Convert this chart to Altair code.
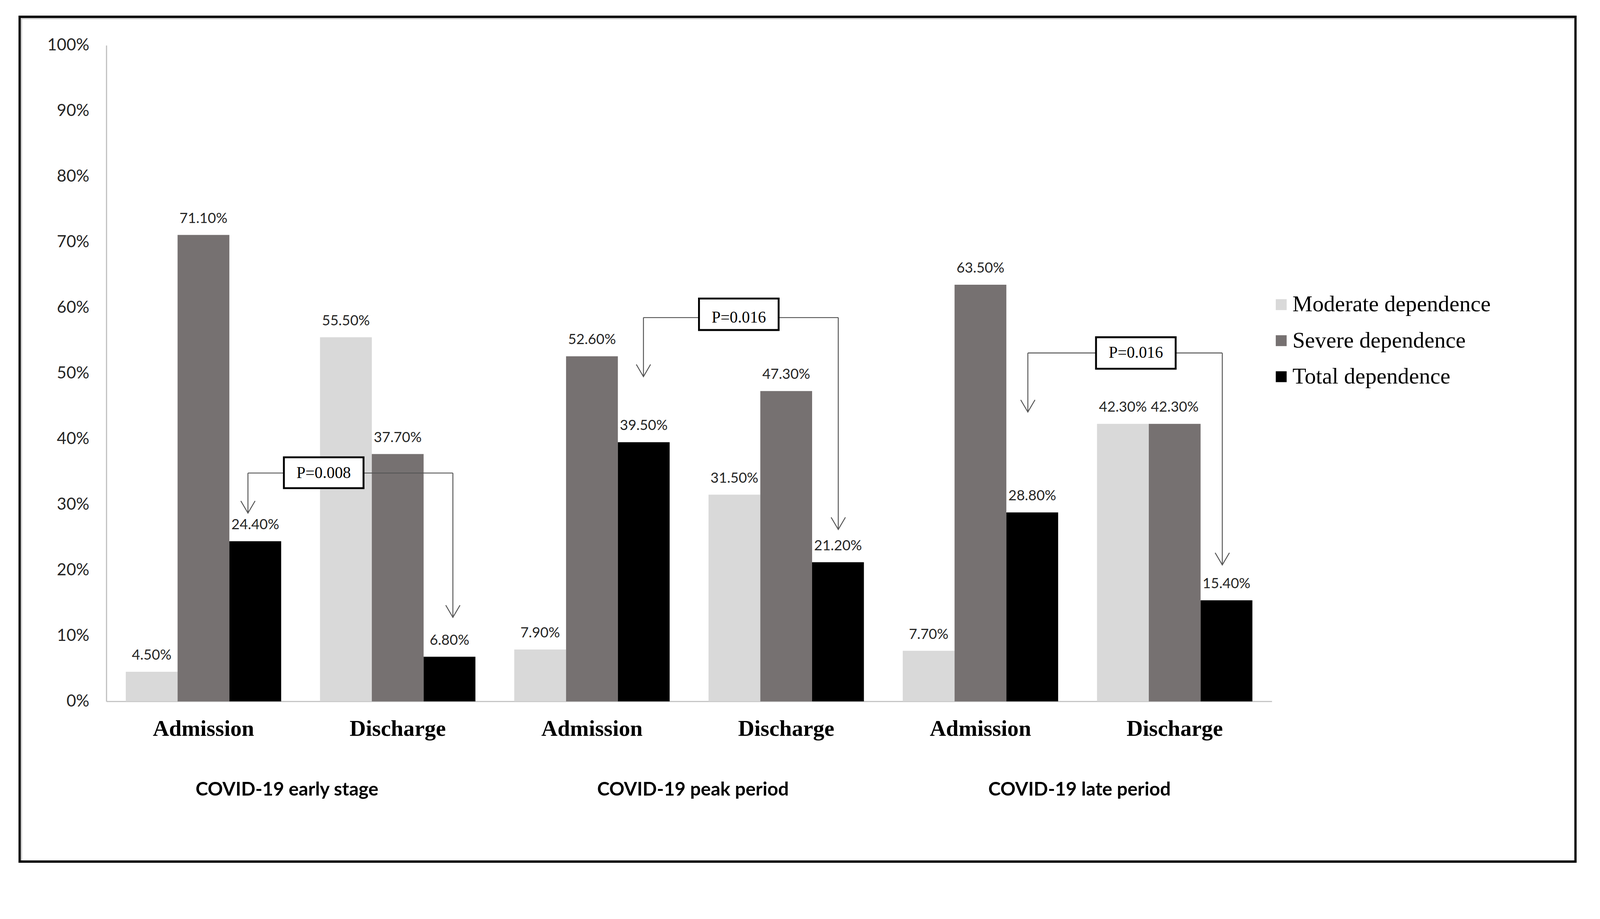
import altair as alt
import pandas as pd

# ---------------- data ----------------
periods = ["COVID-19 early stage", "COVID-19 peak period", "COVID-19 late period"]
stages = ["Admission", "Discharge"]
slots = [f"{p}|{s}" for p in periods for s in stages]
series = ["Moderate dependence", "Severe dependence", "Total dependence"]
colors = ["#d9d9d9", "#767171", "#000000"]

moderate = [4.5, 55.5, 7.9, 31.5, 7.7, 42.3]
severe = [71.1, 37.7, 52.6, 47.3, 63.5, 42.3]
total = [24.4, 6.8, 39.5, 21.2, 28.8, 15.4]

# group label positions (in category units along the x axis)
period_pos = [0.93, 3.02, 5.01]

# P-value brackets
p_labels = ["P=0.008", "P=0.016", "P=0.016"]
br_left_x = [0.729, 2.765, 4.744]
br_right_x = [1.784, 3.768, 5.745]
br_level = [34.8, 58.5, 53.1]
tip_left = [28.7, 49.5, 44.1]
tip_right = [12.8, 26.2, 20.8]
box_x = [1.119, 3.256, 5.30]
box_low = [32.5, 56.6, 50.7]
box_high = [37.2, 61.4, 55.5]
box_half = 0.205

# ---------------- layout ----------------
W, H = 3105, 1748
SANS = "Lato, 'DejaVu Sans Condensed', sans-serif"
SERIF = "'Liberation Serif', 'DejaVu Serif', serif"

rows = []
for vals, s in zip([moderate, severe, total], series):
    for slot, v in zip(slots, vals):
        rows.append({"slot": slot, "series": s, "value": v, "label": f"{v:.2f}%"})
bars_df = pd.DataFrame(rows)

x_band = alt.Scale(domain=slots, paddingInner=0.2, paddingOuter=0.1)
y_scale = alt.Scale(domain=[0, 100], nice=False)
xoff = alt.XOffset("series:N", sort=series, scale=alt.Scale(domain=series, paddingInner=0))

bars = alt.Chart(bars_df).mark_bar().encode(
    x=alt.X("slot:N", sort=slots, scale=x_band,
            axis=alt.Axis(title=None, labelExpr="split(datum.value, '|')[1]",
                          labelAngle=0, ticks=False, domainColor="#bfbfbf", domainWidth=3,
                          labelFont=SERIF, labelFontWeight="bold", labelFontSize=60,
                          labelColor="#000000", labelPadding=44, labelLimit=0)),
    xOffset=xoff,
    y=alt.Y("value:Q", scale=y_scale,
            axis=alt.Axis(title=None, values=list(range(0, 101, 10)),
                          labelExpr="datum.value + '%'", grid=False, ticks=False,
                          domainColor="#bfbfbf", domainWidth=3, labelPadding=46,
                          labelFont=SANS, labelFontSize=44, labelColor="#262626")),
    color=alt.Color("series:N", sort=series, scale=alt.Scale(domain=series, range=colors),
                    legend=alt.Legend(title=None, orient="none", legendX=3100, legendY=661,
                                      labelFont=SERIF, labelFontSize=60, labelColor="#000000",
                                      symbolType="square", symbolSize=841, symbolStrokeWidth=0,
                                      rowPadding=36, labelOffset=0, padding=0, labelLimit=0)),
)

value_labels = alt.Chart(bars_df).mark_text(
    baseline="alphabetic", dy=-32, font=SANS, fontSize=38, color="#262626"
).encode(
    x=alt.X("slot:N", sort=slots, scale=x_band, axis=None),
    xOffset=xoff,
    y=alt.Y("value:Q", scale=y_scale),
    text="label:N",
)

qx = alt.Scale(domain=[0, 6], nice=False, zero=False)

period_df = pd.DataFrame({"period": periods, "pos": period_pos})
period_text = alt.Chart(period_df).mark_text(
    baseline="alphabetic", font=SANS, fontWeight="bold", fontSize=50, color="#000000"
).encode(
    x=alt.X("pos:Q", scale=qx, axis=None),
    y=alt.value(H + 251),
    text="period:N",
)

seg_rows = []
for i in range(3):
    seg_rows.append({"x": br_left_x[i], "x2": br_right_x[i], "y": br_level[i], "y2": br_level[i]})
    seg_rows.append({"x": br_left_x[i], "x2": br_left_x[i], "y": br_level[i], "y2": tip_left[i]})
    seg_rows.append({"x": br_right_x[i], "x2": br_right_x[i], "y": br_level[i], "y2": tip_right[i]})
seg_df = pd.DataFrame(seg_rows)
segments = alt.Chart(seg_df).mark_rule(color="#555555", strokeWidth=2.5).encode(
    x=alt.X("x:Q", scale=qx, axis=None), x2="x2:Q",
    y=alt.Y("y:Q", scale=y_scale), y2="y2:Q",
)

tips_df = pd.DataFrame({"x": br_left_x + br_right_x, "y": tip_left + tip_right})
arrowheads = alt.Chart(tips_df).mark_point(
    shape="M -1 -1.7 L 0 0 L 1 -1.7", size=1444, filled=False,
    color="#555555", strokeWidth=2.5, opacity=1
).encode(
    x=alt.X("x:Q", scale=qx, axis=None),
    y=alt.Y("y:Q", scale=y_scale),
)

box_df = pd.DataFrame({
    "x0": [b - box_half for b in box_x], "x1": [b + box_half for b in box_x],
    "xc": box_x, "lo": box_low, "hi": box_high, "mid": br_level, "label": p_labels,
})
boxes = alt.Chart(box_df).mark_rect(fill="#ffffff", stroke="#000000", strokeWidth=5).encode(
    x=alt.X("x0:Q", scale=qx, axis=None), x2="x1:Q",
    y=alt.Y("lo:Q", scale=y_scale), y2="hi:Q",
)
box_text = alt.Chart(box_df).mark_text(
    baseline="middle", font=SERIF, fontSize=43, color="#000000"
).encode(
    x=alt.X("xc:Q", scale=qx, axis=None),
    y=alt.Y("mid:Q", scale=y_scale),
    text="label:N",
)

dummy = pd.DataFrame({"a": [0]})
frame = alt.Chart(dummy).mark_rect(fill="transparent", stroke="#000000", strokeWidth=6).encode(
    x=alt.value(-231), x2=alt.value(3914), y=alt.value(-76), y2=alt.value(2175)
)
frame_top = alt.Chart(dummy).mark_rule(color="#c8c8c8", strokeWidth=3).encode(
    x=alt.value(-228), x2=alt.value(3911), y=alt.value(-71)
)
frame_left = alt.Chart(dummy).mark_rule(color="#c8c8c8", strokeWidth=3).encode(
    x=alt.value(-226), y=alt.value(-71), y2=alt.value(2172)
)

chart = alt.layer(
    frame, frame_top, frame_left,
    bars, value_labels, segments, arrowheads, boxes, box_text, period_text,
).resolve_scale(x="independent").properties(
    width=W, height=H,
    background="#ffffff",
    autosize=alt.AutoSizeParams(type="none"),
    padding={"left": 275, "top": 66, "right": 866, "bottom": 468},
).configure_view(strokeWidth=0)

chart.save("out.html", embed_options={"renderer": "svg", "actions": False})
